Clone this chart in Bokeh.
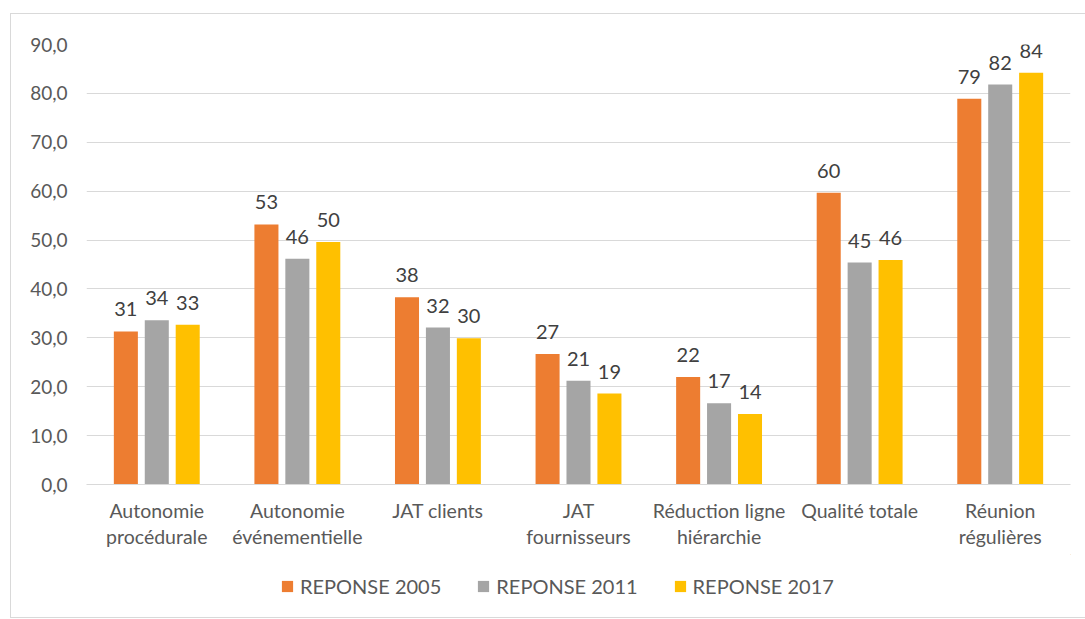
from bokeh.plotting import figure
from bokeh.layouts import column
from bokeh.models import ColumnDataSource, FactorRange, FixedTicker, Legend, LegendItem
from bokeh.transform import dodge
from bokeh.core.properties import value
from bokeh.embed import file_html
from bokeh.resources import INLINE

categories = ["Autonomie\nprocédurale", "Autonomie\névénementielle", "JAT clients",
              "JAT\nfournisseurs", "Réduction ligne\nhiérarchie", "Qualité totale",
              "Réunion\nrégulières"]
series_names = ["REPONSE 2005", "REPONSE 2011", "REPONSE 2017"]
rep2005 = [31.3, 53.2, 38.3, 26.7, 22.0, 59.7, 78.9]
rep2011 = [33.6, 46.2, 32.1, 21.2, 16.6, 45.4, 81.8]
rep2017 = [32.7, 49.6, 29.9, 18.6, 14.4, 45.9, 84.2]
y_ticks = [0, 10, 20, 30, 40, 50, 60, 70, 80, 90]

colors = ["#ED7D31", "#A5A5A5", "#FFC000"]
FONT = "Lato"
W = 1074

src = ColumnDataSource(dict(
    cat=categories,
    s0=rep2005, s1=rep2011, s2=rep2017,
    l0=[f"{v:.0f}" for v in rep2005],
    l1=[f"{v:.0f}" for v in rep2011],
    l2=[f"{v:.0f}" for v in rep2017],
))

p = figure(x_range=FactorRange(*categories, range_padding=0), y_range=(0, 90),
           width=W, height=540, output_backend="svg", toolbar_location=None,
           min_border_left=75, min_border_right=15, min_border_top=30, min_border_bottom=70)
p.outline_line_color = None

offsets = [-0.22, 0.0, 0.22]
for i, (key, lab) in enumerate([("s0", "l0"), ("s1", "l1"), ("s2", "l2")]):
    p.vbar(x=dodge("cat", offsets[i], range=p.x_range), top=key, width=0.171,
           source=src, fill_color=colors[i], line_color=None)
    p.text(x=dodge("cat", offsets[i], range=p.x_range), y=key, text=lab, source=src,
           text_align="center", text_baseline="alphabetic", y_offset=-22,
           text_font=value(FONT), text_font_size="20px", text_color="#404040")

p.yaxis.ticker = FixedTicker(ticks=y_ticks)
p.yaxis.major_label_overrides = {t: f"{t},0" for t in y_ticks}
p.yaxis.axis_line_color = None
p.yaxis.major_tick_line_color = None
p.yaxis.minor_tick_line_color = None
p.yaxis.major_label_text_font = FONT
p.yaxis.major_label_text_font_size = "19px"
p.yaxis.major_label_text_color = "#595959"
p.yaxis.major_label_standoff = 13

p.xaxis.axis_line_color = "#d9d9d9"
p.xaxis.major_tick_line_color = None
p.xaxis.minor_tick_line_color = None
p.xaxis.major_label_text_font = FONT
p.xaxis.major_label_text_font_size = "19.5px"
p.xaxis.major_label_text_line_height = 1.15
p.xaxis.major_label_text_color = "#595959"
p.xaxis.major_label_standoff = 8

p.xgrid.grid_line_color = None
p.ygrid.grid_line_color = "#d9d9d9"
p.ygrid.grid_line_width = 1

# legend strip below the chart (swatch renderers sit outside the visible range)
pl = figure(width=W, height=63, x_range=(0, 1), y_range=(0, 1), output_backend="svg",
            toolbar_location=None, min_border=0, x_axis_location=None, y_axis_location=None)
pl.grid.visible = False
pl.outline_line_color = None
swatch = ColumnDataSource(dict(x=[5], top=[5]))
leg_renderers = [pl.vbar(x="x", top="top", bottom=4, width=0.1, source=swatch,
                         fill_color=colors[i], line_color=None) for i in range(3)]
legend = Legend(items=[LegendItem(label=series_names[i], renderers=[leg_renderers[i]]) for i in range(3)],
                orientation="horizontal", location=(194, 19))
legend.glyph_width = 14
legend.glyph_height = 14
legend.label_height = 14
legend.label_standoff = 6
legend.spacing = 35
legend.padding = 0
legend.margin = 0
legend.label_text_font = FONT
legend.label_text_font_size = "20px"
legend.label_text_color = "#595959"
legend.border_line_color = None
legend.background_fill_alpha = 0
pl.add_layout(legend)

layout = column(p, pl, spacing=0)
layout.margin = (13, 0, 0, 10)
layout.styles = {"border": "1px solid #d9d9d9"}

open("out.html", "w").write(file_html(layout, INLINE))
